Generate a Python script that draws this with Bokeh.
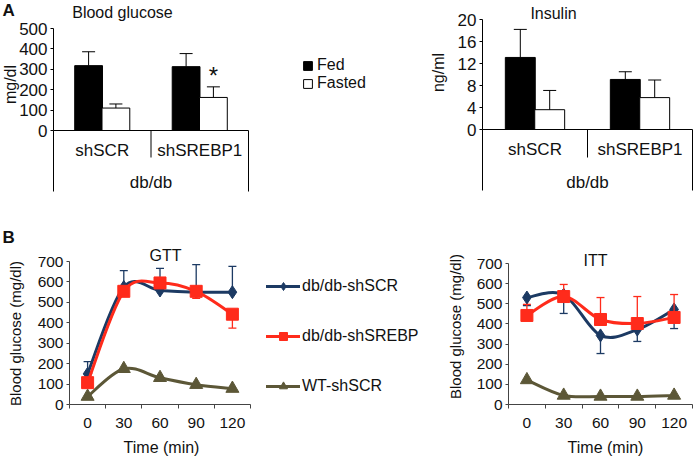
import math
from bokeh.plotting import figure
from bokeh.models import (ColumnDataSource, Range1d, FixedTicker, Label, Legend, LegendItem)
from bokeh.layouts import row, column
from bokeh.embed import file_html
from bokeh.resources import INLINE
from bokeh.core.properties import value

# ---------------- data ----------------
groups = ["shSCR", "shSREBP1"]
supergroup = ["db/db"]
conditions = ["Fed", "Fasted"]

glucose_fed = [318, 313]
glucose_fed_err = [68, 64]
glucose_fasted = [110, 162]
glucose_fasted_err = [20, 52]
glucose_sig = ["", "*"]
glucose_ticks = [0, 100, 200, 300, 400, 500]

insulin_fed = [13.1, 9.1]
insulin_fed_err = [5.1, 1.4]
insulin_fasted = [3.6, 5.8]
insulin_fasted_err = [3.5, 3.2]
insulin_sig = ["", ""]
insulin_ticks = [0, 4, 8, 12, 16, 20]

time_min = [0, 30, 60, 90, 120]
time_ticks = [0, 30, 60, 90, 120]
glucose_curve_ticks = [0, 100, 200, 300, 400, 500, 600, 700]
series_names = ["db/db-shSCR", "db/db-shSREBP", "WT-shSCR"]

gtt_scr = [150, 575, 558, 550, 550]
gtt_scr_err = [60, 80, 108, 135, 126]        # plotted upward
gtt_srebp = [107, 554, 595, 554, 442]
gtt_srebp_err = [15, 20, 20, 34, 68]         # plotted downward
gtt_wt = [39, 175, 131, 97, 78]

itt_scr = [531, 545, 343, 372, 472]
itt_scr_err = [40, 93, 90, 59, 95]           # plotted downward
itt_srebp = [442, 536, 422, 402, 432]
itt_srebp_err = [55, 60, 109, 134, 114]      # plotted upward
itt_wt = [122, 45, 40, 40, 45]

# ---------------- styles ----------------
FONT = "Liberation Sans"
NAVY = "#1C3A63"
RED = "#FF2B1B"
OLIVE = "#5C5737"
TXT = "#111111"
AXIS_B = "#444444"


def label(p, text, x, y_top, size="16px", angle=0.0, align="center", baseline="middle",
          style="normal"):
    """x, y_top in pixels from the figure's top-left corner (frame == whole figure)."""
    p.add_layout(Label(x=x, y=p.height - y_top, x_units="screen", y_units="screen",
                       text=text, angle=angle, text_align=align, text_baseline=baseline,
                       text_font=FONT, text_font_size=size, text_color=TXT,
                       text_font_style=style))


def base_fig(width, height, x_range, y_range):
    p = figure(width=width, height=height, x_range=x_range, y_range=y_range,
               output_backend="svg", toolbar_location=None,
               min_border_left=0, min_border_right=0,
               min_border_top=0, min_border_bottom=0)
    p.outline_line_color = None
    p.grid.visible = False
    p.background_fill_color = "white"
    p.border_fill_color = "white"
    return p


def style_axis(ax, color, size):
    ax.axis_line_color = color
    ax.major_tick_line_color = color
    ax.major_label_text_font = FONT
    ax.major_label_text_font_size = size
    ax.major_label_text_color = TXT


# ---------------- panel A: bar charts ----------------
OFF = 0.14
BW = 0.285
TOP_H = 200


def bar_panel(width, x_lo, x_hi, y_lo, y_hi, ticks, title, title_xy, ylabel, ylab_xy,
              fed, fed_err, fasted, fasted_err, sig, sep_short, sep_long, group_y,
              legend_loc=None, panel_letter=None):
    p = base_fig(width, TOP_H, Range1d(x_lo, x_hi), Range1d(y_lo, y_hi))
    n = len(groups)
    centers = [i + 0.5 for i in range(n)]
    src = ColumnDataSource(dict(
        xf=[c - OFF for c in centers], xs=[c + OFF for c in centers],
        fed=fed, fasted=fasted,
        fed_hi=[v + e for v, e in zip(fed, fed_err)],
        fasted_hi=[v + e for v, e in zip(fasted, fasted_err)],
        sig=sig))
    r_fed = p.vbar(x="xf", top="fed", bottom=0, width=BW, source=src,
                   fill_color="black", line_color="black", line_width=1)
    r_fas = p.vbar(x="xs", top="fasted", bottom=0, width=BW, source=src,
                   fill_color="white", line_color="black", line_width=1)
    for xx, lo, hi in (("xf", "fed", "fed_hi"), ("xs", "fasted", "fasted_hi")):
        p.segment(x0=xx, y0=lo, x1=xx, y1=hi, source=src, line_color="black", line_width=1)
        p.scatter(x=xx, y=hi, marker="dash", size=13, line_color="black",
                  line_width=1, source=src)
    p.text(x="xs", y="fasted_hi", text="sig", source=src, text_font=value(FONT),
           text_font_size="24px", text_align="center", text_baseline="middle",
           y_offset=-11, text_color=TXT)
    # category separators of the two-level category axis
    bnds = list(range(n + 1))
    p.segment(x0=bnds, y0=[0] * len(bnds), x1=bnds,
              y1=[sep_long if b in (0, n) else sep_short for b in bnds],
              line_color="black", line_width=1)
    p.text(x=[n / 2], y=[group_y], text=supergroup, text_font=value(FONT),
           text_font_size="17px", text_align="center", text_baseline="middle",
           text_color=TXT)
    # axes
    ya = p.yaxis[0]
    ya.fixed_location = 0
    ya.ticker = FixedTicker(ticks=ticks, minor_ticks=[])
    ya.bounds = (ticks[0], ticks[-1])
    ya.major_tick_out = 3
    ya.major_tick_in = 0
    ya.major_label_standoff = 3
    style_axis(ya, "black", "17px")
    xa = p.xaxis[0]
    xa.fixed_location = 0
    xa.ticker = FixedTicker(ticks=centers, minor_ticks=[])
    xa.major_label_overrides = {c: g for c, g in zip(centers, groups)}
    xa.bounds = (0, n)
    xa.major_tick_out = 0
    xa.major_label_standoff = 10
    style_axis(xa, "black", "17px")
    xa.major_tick_line_color = None
    # titles
    label(p, title, title_xy[0], title_xy[1])
    label(p, ylabel, ylab_xy[0], ylab_xy[1], angle=math.pi / 2)
    if panel_letter:
        label(p, panel_letter, 2, 0, size="17px", align="left", baseline="top",
              style="bold")
    if legend_loc:
        lg = Legend(items=[LegendItem(label=conditions[0], renderers=[r_fed]),
                           LegendItem(label=conditions[1], renderers=[r_fas])],
                    location=legend_loc, orientation="vertical",
                    glyph_width=11, glyph_height=11, label_height=16, spacing=0,
                    padding=0, margin=0, label_standoff=4,
                    border_line_color=None, background_fill_alpha=0,
                    label_text_font=FONT, label_text_font_size="16px",
                    label_text_color=TXT)
        p.add_layout(lg, "center")
    return p


# Blood glucose: category unit 97.5 px, axis at x=53, 0 at y=130, 500 at y=28
g_px = 102 / 500
pA1 = bar_panel(380, -53 / 97.5, (380 - 53) / 97.5, -(TOP_H - 130) / g_px, 130 / g_px,
                glucose_ticks, "Blood glucose", (122, 12), "mg/dl", (10, 84),
                glucose_fed, glucose_fed_err, glucose_fasted, glucose_fasted_err,
                glucose_sig, -27 / g_px, -61 / g_px, -52 / g_px,
                legend_loc=(302, TOP_H - 92), panel_letter="A")
# Insulin: category unit 105 px, axis at x=482 (102 in figure), 0 at 129, 20 at 19
i_px = 110 / 20
pA2 = bar_panel(313, -102 / 105, (313 - 102) / 105, -(TOP_H - 129) / i_px, 129 / i_px,
                insulin_ticks, "Insulin", (173, 13), "ng/ml", (58, 72),
                insulin_fed, insulin_fed_err, insulin_fasted, insulin_fasted_err,
                insulin_sig, -28 / i_px, -61 / i_px, -53 / i_px)


# ---------------- panel B: curves ----------------
BOT_H = 259


def smooth(xs, ys):
    n = len(xs)
    seg = {k: [] for k in ("x0", "y0", "x1", "y1", "cx0", "cy0", "cx1", "cy1")}
    for i in range(n - 1):
        a = max(i - 1, 0)
        d = min(i + 2, n - 1)
        seg["x0"].append(xs[i]); seg["y0"].append(ys[i])
        seg["x1"].append(xs[i + 1]); seg["y1"].append(ys[i + 1])
        seg["cx0"].append(xs[i] + (xs[i + 1] - xs[a]) / 6)
        seg["cy0"].append(ys[i] + (ys[i + 1] - ys[a]) / 6)
        seg["cx1"].append(xs[i + 1] - (xs[d] - xs[i]) / 6)
        seg["cy1"].append(ys[i + 1] - (ys[d] - ys[i]) / 6)
    return seg


def draw_series(p, ys, err, sign, color, marker, size):
    if err is not None:
        ends = [v + sign * e for v, e in zip(ys, err)]
        p.segment(x0=time_min, y0=ys, x1=time_min, y1=ends, line_color=color,
                  line_width=1.3)
        p.scatter(x=time_min, y=ends, marker="dash", size=8, line_color=color,
                  line_width=1.3)
    r_line = p.bezier(source=ColumnDataSource(smooth(time_min, ys)), x0="x0", y0="y0",
                      x1="x1", y1="y1", cx0="cx0", cy0="cy0", cx1="cx1", cy1="cy1",
                      line_color=color, line_width=3, line_cap="round")
    r_mark = p.scatter(x=time_min, y=ys, marker=marker, size=size, fill_color=color,
                       line_color=color)
    return r_line, r_mark


def curve_panel(width, ax_left, ax_right, y0_px, y700_px, title, title_xy, ylab_xy,
                time_xy, series, legend_loc=None, panel_letter=None):
    xs_per_px = 150 / (ax_right - ax_left)
    ys_per_px = 700 / (y0_px - y700_px)
    x_rng = Range1d(-15 - ax_left * xs_per_px, 135 + (width - ax_right) * xs_per_px)
    y_rng = Range1d(-(BOT_H - y0_px) * ys_per_px, y0_px * ys_per_px)
    p = base_fig(width, BOT_H, x_rng, y_rng)
    rends = {}
    for key, ys, err, sign, color, marker, size in series:
        rends[key] = draw_series(p, ys, err, sign, color, marker, size)
    ya = p.yaxis[0]
    ya.fixed_location = -15
    ya.ticker = FixedTicker(ticks=glucose_curve_ticks, minor_ticks=[])
    ya.bounds = (0, 700)
    ya.major_tick_out = 3
    ya.major_tick_in = 0
    ya.major_label_standoff = 3
    style_axis(ya, AXIS_B, "15.5px")
    xa = p.xaxis[0]
    xa.fixed_location = 0
    xa.ticker = FixedTicker(ticks=time_ticks,
                            minor_ticks=[t - 15 for t in time_ticks] + [time_ticks[-1] + 15])
    xa.bounds = (-15, 135)
    xa.major_tick_out = 0
    xa.minor_tick_out = 4
    xa.minor_tick_in = 0
    xa.major_label_standoff = 9
    style_axis(xa, AXIS_B, "15.5px")
    xa.major_tick_line_color = None
    xa.minor_tick_line_color = AXIS_B
    label(p, title, title_xy[0], title_xy[1])
    label(p, "Blood glucose (mg/dl)", ylab_xy[0], ylab_xy[1], size="15px",
          angle=math.pi / 2)
    label(p, "Time (min)", time_xy[0], time_xy[1], baseline="alphabetic")
    if panel_letter:
        label(p, panel_letter, 2, 27, size="17px", align="left", baseline="top",
              style="bold")
    if legend_loc:
        items = [LegendItem(label=series_names[k], renderers=list(rends[k]))
                 for k in range(len(series_names))]
        lg = Legend(items=items, location=legend_loc, orientation="vertical",
                    glyph_width=34, glyph_height=20, label_height=20, spacing=30,
                    padding=0, margin=0, label_standoff=2,
                    border_line_color=None, background_fill_alpha=0,
                    label_text_font=FONT, label_text_font_size="16px",
                    label_text_color=TXT)
        p.add_layout(lg, "center")
    return p


# drawing order: WT, shSCR, shSREBP (key = index in series_names)
gtt_series = [
    (2, gtt_wt, None, 0, OLIVE, "triangle", 13),
    (0, gtt_scr, gtt_scr_err, 1, NAVY, "diamond", 13),
    (1, gtt_srebp, gtt_srebp_err, -1, RED, "square", 12),
]
itt_series = [
    (2, itt_wt, None, 0, OLIVE, "triangle", 13),
    (0, itt_scr, itt_scr_err, -1, NAVY, "diamond", 13),
    (1, itt_srebp, itt_srebp_err, 1, RED, "square", 12),
]

B1_W = 425
pB1 = curve_panel(B1_W, 69, 250, 204, 61, "GTT", (165, 55), (15, 133), (161, 247),
                  gtt_series, legend_loc=(266, BOT_H - 196), panel_letter="B")
pB2 = curve_panel(693 - B1_W, 508 - B1_W, 692 - B1_W, 204, 63, "ITT", (595 - B1_W, 60),
                  (455 - B1_W, 126), (605 - B1_W, 247), itt_series)

layout = column(row(pA1, pA2), row(pB1, pB2))
open("out.html", "w").write(file_html(layout, INLINE))
